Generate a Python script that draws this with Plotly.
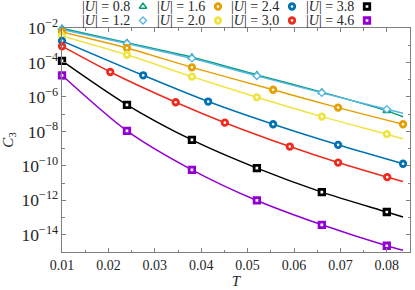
import plotly.graph_objects as go

# ---------------- data ----------------
labels = ["0.8", "1.2", "1.6", "2.0", "2.4", "3.0", "3.8", "4.6"]

T_08 = [0.010, 0.024, 0.038, 0.052, 0.066, 0.080]
C_08 = [9.5e-3, 1.4e-3, 2.0e-4, 1.9e-5, 1.9e-6, 1.55e-7]
T_12 = [0.010, 0.024, 0.038, 0.052, 0.066, 0.080]
C_12 = [8.3e-3, 1.26e-3, 1.74e-4, 1.66e-5, 1.74e-6, 1.9e-7]
T_16 = [0.010, 0.024, 0.038, 0.0555, 0.0695, 0.0835]
C_16 = [5.9e-3, 6.9e-4, 5.2e-5, 2.6e-6, 2.4e-7, 2.6e-8]
T_20 = [0.010, 0.024, 0.038, 0.052, 0.066, 0.080]
C_20 = [3.5e-3, 2.8e-4, 1.5e-5, 9.5e-7, 7.2e-8, 6.9e-9]
T_24 = [0.010, 0.0275, 0.0415, 0.0555, 0.0695, 0.0835]
C_24 = [1.8e-3, 1.8e-5, 5.4e-7, 2.6e-8, 1.66e-9, 1.32e-10]
T_30 = [0.010, 0.0204, 0.0345, 0.0451, 0.0591, 0.0695, 0.0801]
C_30 = [8.7e-4, 2.8e-5, 4.9e-7, 3.2e-8, 1.32e-9, 1.55e-10, 2.2e-11]
T_38 = [0.010, 0.024, 0.038, 0.052, 0.066, 0.080]
C_38 = [1.23e-4, 3.5e-7, 3.2e-9, 7.4e-11, 3.0e-12, 2.1e-13]
T_46 = [0.010, 0.024, 0.038, 0.052, 0.066, 0.080]
C_46 = [1.8e-5, 1.07e-8, 5.9e-11, 9.8e-13, 3.8e-14, 2.3e-15]

# curve continuation beyond the last marker (line end)
T_end = [0.0835, 0.0835, None, 0.0835, None, 0.0835, 0.0835, 0.0835]
C_end = [7.1e-8, 1.12e-7, None, 3.7e-9, None, 1.23e-11, 1.07e-13, 1.26e-15]

x_ticks = [0.01, 0.02, 0.03, 0.04, 0.05, 0.06, 0.07, 0.08]

# ---------------- styles ----------------
series_T = [T_08, T_12, T_16, T_20, T_24, T_30, T_38, T_46]
series_C = [C_08, C_12, C_16, C_20, C_24, C_30, C_38, C_46]
colors = ["#009E73", "#56B4E9", "#E69F00", "#F0E442", "#0072B2", "#EE2A1E", "#000000", "#9400D3"]
symbols = ["triangle-up", "diamond", "circle", "circle", "circle", "circle", "square", "square"]
msize = [6.5, 5.5, 5.5, 5.5, 5.5, 5.5, 5.5, 5.5]
mlw = [1.5, 1.3, 2.8, 2.8, 2.8, 2.8, 2.8, 2.8]

FONT = "Liberation Serif"
TXT = "#262626"
AX = "#7f7f7f"

fig = go.Figure()

for i in range(len(labels)):
    lx = list(series_T[i]) + ([T_end[i]] if T_end[i] is not None else [])
    ly = list(series_C[i]) + ([C_end[i]] if C_end[i] is not None else [])
    fig.add_trace(go.Scatter(
        x=lx, y=ly, mode="lines",
        line=dict(color=colors[i], width=1.5, shape="spline", smoothing=0.8),
        showlegend=False, hoverinfo="skip"))

for i in range(len(labels)):
    fig.add_trace(go.Scatter(
        x=series_T[i], y=series_C[i], mode="markers",
        marker=dict(symbol=symbols[i], size=msize[i], color="white",
                    line=dict(color=colors[i], width=mlw[i])),
        cliponaxis=False, showlegend=False))

# ---------------- custom legend (text then marker) ----------------
leg_mx = [143, 143, 218, 218, 292, 292, 367, 367]
leg_my = [6.5, 20.5, 6.5, 20.5, 6.5, 20.5, 6.5, 20.5]
for i in range(len(labels)):
    fig.add_trace(go.Scatter(
        x=[leg_mx[i]], y=[leg_my[i]], xaxis="x2", yaxis="y2", mode="markers",
        marker=dict(symbol=symbols[i], size=msize[i], color="white",
                    line=dict(color=colors[i], width=mlw[i])),
        cliponaxis=False, showlegend=False, hoverinfo="skip"))
    fig.add_annotation(
        x=leg_mx[i] - 11, y=leg_my[i], xref="x2", yref="y2",
        text="|<i>U</i>| = " + labels[i], showarrow=False,
        xanchor="right", yanchor="middle",
        font=dict(family=FONT, size=14, color=TXT))

top_frac = (252 - 28) / 252

fig.update_layout(
    width=415, height=290, autosize=False,
    margin=dict(l=62, r=5, t=0, b=38, autoexpand=False),
    showlegend=False,
    paper_bgcolor="white", plot_bgcolor="white",
    font=dict(family=FONT, size=13.5, color=TXT),
    xaxis=dict(range=[0.01, 0.085], tickvals=x_ticks, ticktext=[f"{v:.2f}" for v in x_ticks],
               ticks="inside", ticklen=4, tickwidth=1, tickcolor=AX,
               showline=True, linecolor=AX, linewidth=1, mirror="ticks",
               showgrid=False, zeroline=False, automargin=False,
               minor=dict(dtick=0.005, tick0=0.01, ticks="inside", ticklen=2.5, tickcolor=AX, showgrid=False),
               title=dict(text="<i>T</i>", font=dict(family=FONT, size=15, color=TXT), standoff=2),
               tickfont=dict(family=FONT, size=14, color=TXT)),
    yaxis=dict(type="log", range=[-15, -2], dtick=2, exponentformat="power",
               domain=[0, top_frac], automargin=False,
               ticks="inside", ticklen=4, tickwidth=1, tickcolor=AX,
               showline=True, linecolor=AX, linewidth=1, mirror="ticks",
               showgrid=False, zeroline=False,
               minor=dict(dtick=1, ticks="inside", ticklen=2.5, tickcolor=AX, showgrid=False),
               title=dict(text="<i>C</i><sub>3</sub>", font=dict(family=FONT, size=15, color=TXT), standoff=6),
               tickfont=dict(family=FONT, size=14, color=TXT)),
    xaxis2=dict(domain=[0, 1], range=[62, 410], anchor="y2", visible=False, fixedrange=True, automargin=False),
    yaxis2=dict(domain=[top_frac, 1], range=[28, 0], anchor="x2", visible=False, fixedrange=True, automargin=False),
)

fig.write_html("out.html", config={"displayModeBar": False},
               post_script="document.body.style.margin='0';")
